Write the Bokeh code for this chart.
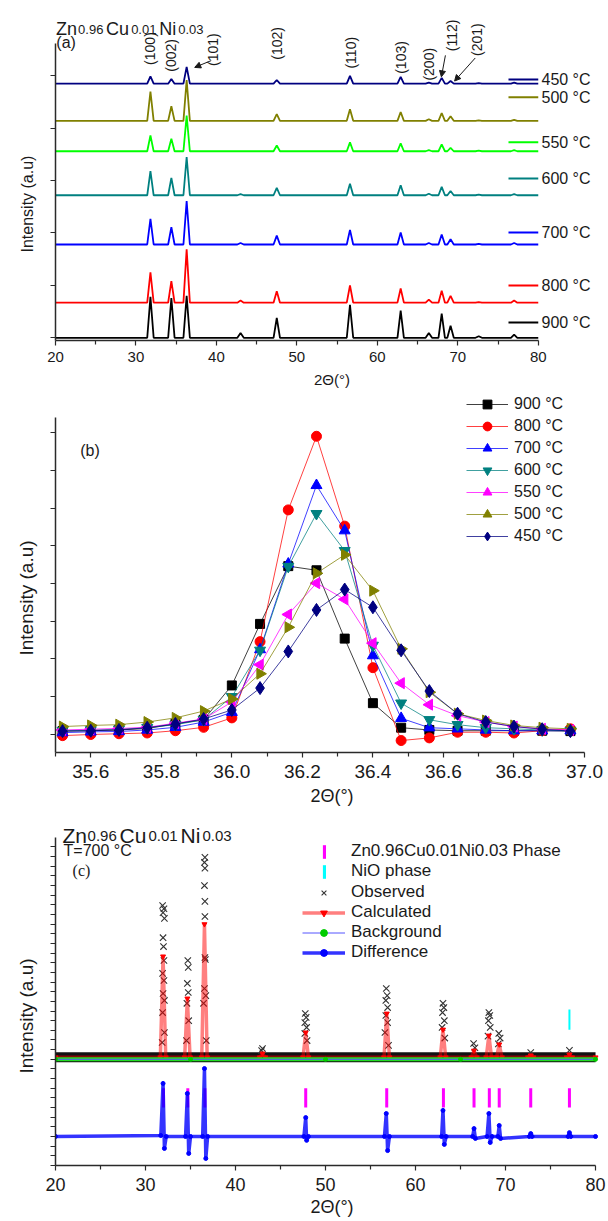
import math
from bokeh.plotting import figure
from bokeh.layouts import column
from bokeh.models import (Range1d, FixedTicker, Label, Arrow, NormalHead, Legend,
                          LegendItem, NumeralTickFormatter, Title)
from bokeh.embed import file_html
from bokeh.resources import INLINE

SANS = "Liberation Sans"
SERIF = "Liberation Serif"
INK = "#1a1a1a"

# ================= Panel (a) data =================
a_labels = ["450 °C", "500 °C", "550 °C", "600 °C", "700 °C", "800 °C", "900 °C"]
a_colors = ["#000080", "#808000", "#00ff00", "#008080", "#0000ff", "#ff0000", "#000000"]
a_offsets = [4.85, 4.14, 3.56, 2.72, 1.78, 0.67, 0.0]
a_peak_pos = [31.8, 34.4, 36.3, 43.0, 47.5, 56.6, 62.9, 66.4, 68.0, 69.1, 72.6, 77.0]
a_h_450 = [0.14, 0.09, 0.32, 0.00, 0.07, 0.15, 0.13, 0.02, 0.11, 0.05, 0.01, 0.02]
a_h_500 = [0.56, 0.28, 0.78, 0.00, 0.13, 0.22, 0.17, 0.03, 0.15, 0.09, 0.01, 0.02]
a_h_550 = [0.30, 0.24, 0.68, 0.00, 0.11, 0.17, 0.15, 0.02, 0.13, 0.065, 0.01, 0.02]
a_h_600 = [0.46, 0.33, 0.73, 0.02, 0.14, 0.22, 0.19, 0.03, 0.16, 0.08, 0.01, 0.02]
a_h_700 = [0.49, 0.33, 0.83, 0.03, 0.17, 0.28, 0.23, 0.03, 0.19, 0.10, 0.01, 0.03]
a_h_800 = [0.58, 0.41, 1.02, 0.04, 0.22, 0.33, 0.27, 0.06, 0.23, 0.13, 0.01, 0.04]
a_h_900 = [0.78, 0.76, 0.80, 0.09, 0.38, 0.63, 0.52, 0.09, 0.46, 0.23, 0.03, 0.06]
a_heights = [a_h_450, a_h_500, a_h_550, a_h_600, a_h_700, a_h_800, a_h_900]
a_leg_y = [4.93, 4.59, 3.73, 3.04, 2.01, 1.00, 0.29]
a_hkl = ["(100)", "(002)", "(101)", "(102)", "(110)", "(103)", "(200)", "(112)", "(201)"]
a_hkl_x = [31.8, 34.4, 39.6, 47.5, 56.7, 62.9, 66.4, 69.3, 72.4]
a_hkl_y = [5.52, 5.39, 5.50, 5.62, 5.44, 5.35, 5.22, 5.77, 5.69]
a_arrows = [(39.35, 5.29, 37.3, 5.16), (68.46, 5.39, 67.96, 4.98), (72.17, 5.34, 69.6, 4.90)]

# ================= Panel (b) data =================
b_x = [35.52, 35.60, 35.68, 35.76, 35.84, 35.92, 36.00, 36.08, 36.16, 36.24,
       36.32, 36.40, 36.48, 36.56, 36.64, 36.72, 36.80, 36.88, 36.96]
b_900 = [0.09, 0.10, 0.12, 0.16, 0.28, 0.39, 1.30, 2.93, 4.46, 4.35, 2.54, 0.83, 0.18, 0.12, 0.10, 0.10, 0.10, 0.10, 0.09]
b_800 = [-0.03, 0.00, 0.02, 0.04, 0.10, 0.19, 0.44, 2.46, 5.95, 7.90, 5.52, 1.77, -0.16, -0.09, 0.06, 0.06, 0.04, 0.10, 0.15]
b_700 = [0.05, 0.07, 0.08, 0.12, 0.19, 0.33, 0.59, 2.25, 4.52, 6.60, 5.40, 2.09, 0.43, 0.18, 0.15, 0.12, 0.10, 0.10, 0.10]
b_600 = [0.10, 0.12, 0.14, 0.18, 0.26, 0.39, 1.00, 2.23, 4.45, 5.85, 4.87, 2.36, 0.83, 0.39, 0.26, 0.18, 0.15, 0.12, 0.10]
b_550 = [0.12, 0.14, 0.16, 0.19, 0.30, 0.41, 0.86, 1.85, 3.18, 4.01, 3.58, 2.42, 1.36, 0.79, 0.50, 0.33, 0.21, 0.15, 0.12]
b_500 = [0.21, 0.24, 0.26, 0.33, 0.44, 0.62, 0.94, 1.61, 2.84, 4.27, 4.76, 3.81, 2.27, 1.12, 0.55, 0.37, 0.24, 0.18, 0.15]
b_450 = [0.09, 0.10, 0.12, 0.18, 0.28, 0.41, 0.65, 1.23, 2.20, 3.30, 3.84, 3.37, 2.23, 1.15, 0.55, 0.33, 0.21, 0.14, 0.09]
b_series = [b_900, b_800, b_700, b_600, b_550, b_500, b_450]
b_labels = ["900 °C", "800 °C", "700 °C", "600 °C", "550 °C", "500 °C", "450 °C"]
b_colors = ["#000000", "#ff0000", "#0000ff", "#008080", "#ff00ff", "#808000", "#000080"]
b_markers = ["square", "circle", "triangle", "inverted_triangle", "triangle", "triangle", "diamond"]
b_angles = [0, 0, 0, 0, math.pi / 2, -math.pi / 2, 0]
b_sizes = [9, 10, 11, 11, 11, 11, 13]

# ================= Panel (c) data =================
obs_x = [31.9, 32.05, 31.95, 32.1, 31.95, 32.0, 32.05, 31.9, 32.05, 31.95, 32.1, 31.9, 32.1, 31.85,
         34.7, 34.75, 34.65, 34.75, 34.6, 34.8, 34.55,
         36.6, 36.55, 36.6, 36.55, 36.6, 36.6, 36.6, 36.65, 36.55, 36.7, 36.45, 36.75,
         43.0, 42.9,
         47.75, 47.85, 47.7, 47.9, 47.7, 47.95,
         56.75, 56.85, 56.7, 56.9, 56.7, 56.9, 56.6, 57.0,
         63.05, 63.15, 63.0, 63.2, 62.95, 63.25,
         66.45, 66.6,
         68.15, 68.25, 68.1, 68.3, 68.05,
         69.25, 69.4, 69.2,
         72.8, 77.1]
obs_y = [11.97, 11.8, 11.6, 11.3, 10.3, 9.84, 9.12, 8.45, 8.08, 7.41, 7.05, 6.42, 5.39, 4.87,
         9.12, 8.76, 7.93, 7.46, 6.9, 6.0, 4.97,
         14.46, 14.2, 13.9, 13.0, 12.18, 11.4, 9.27, 9.17, 7.67, 7.3, 6.9, 4.97,
         4.56, 4.45,
         6.37, 6.17, 5.9, 5.65, 5.34, 4.97,
         7.67, 7.3, 7.05, 6.68, 6.27, 5.9, 5.39, 4.72,
         6.9, 6.68, 6.42, 6.0, 5.65, 5.1,
         4.82, 4.6,
         6.42, 6.27, 6.0, 5.65, 5.2,
         5.34, 5.1, 4.8,
         4.35, 4.46]
obs_base_x = [20.0, 80.0]
obs_base_y = [4.1, 4.1]
calc_pos = [31.95, 34.65, 36.55, 43.0, 47.8, 56.8, 63.05, 66.5, 68.15, 69.3, 72.8, 77.1]
calc_top = [9.33, 7.15, 11.0, 4.3, 5.39, 6.37, 5.54, 4.45, 5.23, 4.77, 4.2, 4.25]
calc_base = 4.1
bg_x = [20.0, 35.0, 50.0, 65.0, 80.0]
bg_y = [4.0, 4.0, 4.0, 4.0, 4.0]
phase_x = [32.0, 34.7, 36.6, 47.8, 56.8, 63.1, 66.5, 68.2, 69.3, 72.8, 77.1]
phase_y = [2.0] * len(phase_x)
nio_x = [77.1]
nio_y = [6.06]
diff_x = [20.0, 31.7, 31.95, 32.1, 32.3, 34.45, 34.65, 34.8, 35.0, 36.35, 36.55, 36.7, 36.9,
          47.6, 47.8, 47.9, 48.1, 56.55, 56.75, 56.9, 57.1, 62.9, 63.05, 63.2, 63.4,
          66.35, 66.5, 66.65, 67.95, 68.15, 68.3, 68.5, 69.15, 69.3, 69.45,
          72.65, 72.8, 72.95, 76.95, 77.1, 77.25, 80.0]
diff_y = [0, 0.05, 2.75, -0.62, 0, 0, 2.23, -0.88, 0, 0, 3.52, -1.14, 0,
          0, 0.98, -0.2, 0, 0, 1.19, -0.73, 0, 0, 1.35, -0.41, 0,
          0, 0.41, -0.1, 0, 1.19, -0.31, 0, 0, 0.57, -0.1,
          0, 0.15, 0, 0, 0.2, 0, 0]


def base_fig(height, bottom, xr, yr):
    p = figure(width=608, height=height, x_range=Range1d(*xr), y_range=Range1d(*yr),
               min_border_top=0, min_border_bottom=bottom, min_border_left=55,
               min_border_right=0, output_backend="svg", toolbar_location=None)
    p.outline_line_color = None
    p.xgrid.visible = False
    p.ygrid.visible = False
    p.background_fill_color = "white"
    p.border_fill_color = "white"
    return p


def style_axes(p, xt, xminor, xbounds, xfs, xtitle_fs, x_ls, x_ts, yt, ybounds,
               ytitle_fs, ytitle_offset, ytitle_standoff):
    xa = p.xaxis[0]
    xa.ticker = FixedTicker(ticks=xt, minor_ticks=xminor)
    xa.bounds = xbounds
    xa.axis_label = "2Θ(°)"
    xa.axis_label_text_font = SANS
    xa.axis_label_text_font_style = "normal"
    xa.axis_label_text_font_size = f"{xtitle_fs}px"
    xa.axis_label_text_color = INK
    xa.axis_label_standoff = x_ts
    xa.major_label_text_font = SANS
    xa.major_label_text_font_size = f"{xfs}px"
    xa.major_label_text_color = INK
    xa.major_label_standoff = x_ls
    ya = p.yaxis[0]
    ya.ticker = FixedTicker(ticks=yt)
    ya.bounds = ybounds
    ya.major_label_overrides = {t: "" for t in yt}
    ya.major_label_text_font_size = "1px"
    ya.major_label_standoff = 0
    ya.axis_label = None
    for ax in (xa, ya):
        ax.axis_line_color = "#2a2a2a"
        ax.axis_line_width = 1.5
        ax.major_tick_line_color = "#2a2a2a"
        ax.major_tick_line_width = 1.2
        ax.minor_tick_line_color = "#2a2a2a"
        ax.minor_tick_line_width = 1.2
        ax.major_tick_in = 0
        ax.major_tick_out = 5
        ax.minor_tick_in = 0
        ax.minor_tick_out = 4
    p.add_layout(Title(text="Intensity (a.u)", align="left", vertical_align="top",
                       offset=ytitle_offset, standoff=ytitle_standoff, text_font=SANS,
                       text_font_style="normal", text_font_size=f"{ytitle_fs}px",
                       text_color=INK), "left")


def add_formula(p, xs, y, big, small):
    parts = ["Zn", "0.96", "Cu", "0.01", "Ni", "0.03"]
    for i, (t, x) in enumerate(zip(parts, xs)):
        p.add_layout(Label(x=x, y=y, text=t, text_font=SANS,
                           text_font_size=f"{big if i % 2 == 0 else small}px",
                           text_color=INK, text_baseline="alphabetic", text_align="left"))


# ================= Panel (a) =================
pa = base_fig(396, 56, (20, 88.73), (-0.052, 6.437))
style_axes(pa, [20, 30, 40, 50, 60, 70, 80], [25, 35, 45, 55, 65, 75], (20, 80), 15, 15, 6, 6,
           [0, 1, 2, 3, 4, 5], (-0.052, 5.617), 16, 88, 26)
for i in [6, 5, 4, 3, 2, 1, 0]:
    off = a_offsets[i]
    xs = [20.0]
    ys = [off]
    for pos, h in zip(a_peak_pos, a_heights[i]):
        if h <= 0:
            continue
        xs += [pos - 0.4, pos, pos + 0.4]
        ys += [off, off + h, off]
    xs.append(80.0)
    ys.append(off)
    pa.line(xs, ys, line_color=a_colors[i], line_width=1.8)
pa.segment(x0=76.3, x1=80.0, y0=a_leg_y, y1=a_leg_y, line_color=a_colors, line_width=2)
for t, yv in zip(a_labels, a_leg_y):
    pa.add_layout(Label(x=80.4, y=yv, text=t, text_font=SANS, text_font_size="16px",
                        text_color=INK, text_baseline="middle"))
for t, xv, yv in zip(a_hkl, a_hkl_x, a_hkl_y):
    pa.add_layout(Label(x=xv, y=yv, text=t, angle=math.pi / 2, text_font=SANS,
                        text_font_size="14px", text_color=INK, text_align="center",
                        text_baseline="middle"))
for (x0, y0, x1, y1) in a_arrows:
    pa.add_layout(Arrow(x_start=x0, y_start=y0, x_end=x1, y_end=y1, line_width=1,
                        line_color=INK, end=NormalHead(size=6, fill_color=INK, line_color=INK)))
add_formula(pa, [20.07, 22.81, 26.29, 29.40, 32.89, 35.25], 5.89, 18, 13)
pa.add_layout(Label(x=20.1, y=5.635, text="(a)", text_font=SANS, text_font_size="16px",
                    text_color=INK, text_baseline="middle"))

# ================= Panel (b) =================
pb = base_fig(414, 58, (35.5, 37.068), (-0.477, 8.954))
bt = [35.6, 35.8, 36.0, 36.2, 36.4, 36.6, 36.8, 37.0]
bm = [35.5, 35.7, 35.9, 36.1, 36.3, 36.5, 36.7, 36.9]
style_axes(pb, bt, bm, (35.5, 37.0), 19, 18, 7, 5, [0, 1, 2, 3, 4, 5, 6, 7, 8],
           (-0.477, 8.397), 19, 97, 24)
pb.xaxis[0].formatter = NumeralTickFormatter(format="0.0")
b_items = []
for ys, lab, col, mk, ang, sz in zip(b_series, b_labels, b_colors, b_markers, b_angles, b_sizes):
    rl = pb.line(b_x, ys, line_color=col, line_width=1, line_alpha=0.75)
    rs = pb.scatter(b_x, ys, marker=mk, angle=ang, size=sz, fill_color=col, line_color=col)
    b_items.append(LegendItem(label=lab, renderers=[rl, rs]))
leg_b = Legend(items=b_items, location=(411, 205), orientation="vertical",
               glyph_width=42, glyph_height=22, label_height=16, label_standoff=6,
               spacing=-1, padding=0, margin=0, border_line_color=None,
               background_fill_alpha=0, label_text_font=SANS, label_text_font_size="16px",
               label_text_color=INK)
pb.add_layout(leg_b)
pb.add_layout(Label(x=35.57, y=7.52, text="(b)", text_font=SANS, text_font_size="16px",
                    text_color=INK, text_baseline="middle"))

# ================= Panel (c) =================
pc = base_fig(411, 56, (20, 81.44), (-1.503, 16.89))
ct = [v / 2 for v in range(-3, 31)]
style_axes(pc, [20, 30, 40, 50, 60, 70, 80], [25, 35, 45, 55, 65, 75], (20, 80), 18, 18, 7, 3,
           ct, (-1.503, 15.49), 19, 92, 24)
pc.line(obs_base_x, obs_base_y, line_color="#111111", line_width=10)
r_obs = pc.scatter(obs_x, obs_y, marker="x", size=9, line_color="#333333", line_width=1.1)
calc_x = [20.0]
calc_y = [calc_base]
for pos, top in zip(calc_pos, calc_top):
    calc_x += [pos - 0.3, pos, pos + 0.3]
    calc_y += [calc_base, top, calc_base]
calc_x.append(80.0)
calc_y.append(calc_base)
r_calc_l = pc.line(calc_x, calc_y, line_color="#ff0000", line_alpha=0.5, line_width=3.5)
r_calc_p = pc.scatter(calc_x, calc_y, marker="inverted_triangle", size=5,
                      fill_color="#ff0000", line_color="#ff0000")
pc.line(bg_x, bg_y, line_color="#22dd22", line_width=4)
r_bg_l = pc.line(bg_x, bg_y, line_color="#5555ff", line_width=1)
r_bg_p = pc.scatter(bg_x, bg_y, marker="circle", size=4, fill_color="#00cc00", line_color="#00cc00")
r_phase = pc.rect(x=phase_x, y=phase_y, width=3, width_units="screen", height=1.0,
                  fill_color="#ff00ff", line_color=None)
r_nio = pc.rect(x=nio_x, y=nio_y, width=2, width_units="screen", height=1.05,
                fill_color="#00ffff", line_color=None)
r_diff_l = pc.line(diff_x, diff_y, line_color="#0000ff", line_width=3.5, line_alpha=0.8)
r_diff_p = pc.scatter(diff_x, diff_y, marker="circle", size=4, fill_color="#0000ff", line_color="#0000ff")
leg_c1 = Legend(items=[LegendItem(label="Zn0.96Cu0.01Ni0.03 Phase", renderers=[r_phase]),
                       LegendItem(label="NiO phase", renderers=[r_nio])],
                location=(267, 284), orientation="vertical",
                glyph_width=4, glyph_height=17, label_height=17, label_standoff=25,
                spacing=-1, padding=0, margin=0, border_line_color=None,
                background_fill_alpha=0, label_text_font=SANS, label_text_font_size="17px",
                label_text_color=INK)
leg_c2 = Legend(items=[LegendItem(label="Observed", renderers=[r_obs]),
                       LegendItem(label="Calculated", renderers=[r_calc_l, r_calc_p]),
                       LegendItem(label="Background", renderers=[r_bg_l, r_bg_p]),
                       LegendItem(label="Difference", renderers=[r_diff_l, r_diff_p])],
                location=(247, 203), orientation="vertical",
                glyph_width=43, glyph_height=17, label_height=17, label_standoff=6,
                spacing=-1, padding=0, margin=0, border_line_color=None,
                background_fill_alpha=0, label_text_font=SANS, label_text_font_size="17px",
                label_text_color=INK)
pc.add_layout(leg_c1)
pc.add_layout(leg_c2)
add_formula(pc, [20.78, 23.56, 27.11, 30.33, 33.89, 36.33], 15.57, 21, 15)
pc.add_layout(Label(x=20.9, y=14.82, text="T=700 °C", text_font=SANS, text_font_size="16px",
                    text_color=INK, text_baseline="middle"))
pc.add_layout(Label(x=21.9, y=13.78, text="(c)", text_font=SERIF, text_font_size="16px",
                    text_color=INK, text_baseline="middle"))

layout = column(pa, pb, pc, spacing=0)
open("out.html", "w").write(file_html(layout, INLINE))
